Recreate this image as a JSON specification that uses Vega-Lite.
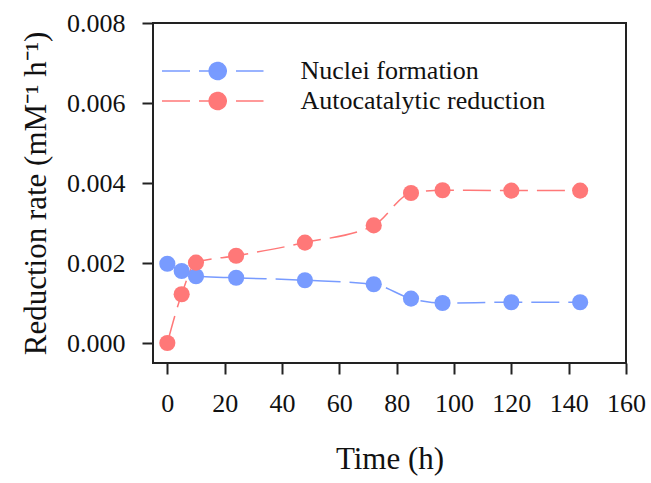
{
  "$schema": "https://vega.github.io/schema/vega-lite/v6.json",
  "width": 473,
  "height": 340,
  "autosize": {"type": "none"},
  "padding": {"left": 153, "top": 23, "right": 25, "bottom": 120},
  "background": "white",
  "config": {
    "font": "Liberation Serif",
    "view": {"stroke": "#222", "strokeWidth": 2},
    "axis": {
      "grid": false,
      "domain": false,
      "tickColor": "#222",
      "tickWidth": 2,
      "tickSize": 11,
      "labelFontSize": 26,
      "labelColor": "#111",
      "labelFont": "Liberation Serif",
      "titleFont": "Liberation Serif",
      "titleFontSize": 31,
      "titleFontWeight": "normal",
      "titleColor": "#111",
      "labelFlush": false,
      "labelOverlap": false
    }
  },
  "data": {
    "values": [
      {"series": "Nuclei formation", "t": 0, "rate": 0.00198},
      {"series": "Nuclei formation", "t": 5, "rate": 0.0018},
      {"series": "Nuclei formation", "t": 10, "rate": 0.00167},
      {"series": "Nuclei formation", "t": 24, "rate": 0.00163},
      {"series": "Nuclei formation", "t": 48, "rate": 0.00157},
      {"series": "Nuclei formation", "t": 72, "rate": 0.00147},
      {"series": "Nuclei formation", "t": 85, "rate": 0.00111},
      {"series": "Nuclei formation", "t": 96, "rate": 0.001},
      {"series": "Nuclei formation", "t": 120, "rate": 0.00102},
      {"series": "Nuclei formation", "t": 144, "rate": 0.00102},
      {"series": "Autocatalytic reduction", "t": 0, "rate": 0.0},
      {"series": "Autocatalytic reduction", "t": 5, "rate": 0.00122},
      {"series": "Autocatalytic reduction", "t": 10, "rate": 0.00201},
      {"series": "Autocatalytic reduction", "t": 24, "rate": 0.00218},
      {"series": "Autocatalytic reduction", "t": 48, "rate": 0.00251},
      {"series": "Autocatalytic reduction", "t": 72, "rate": 0.00294},
      {"series": "Autocatalytic reduction", "t": 85, "rate": 0.00375},
      {"series": "Autocatalytic reduction", "t": 96, "rate": 0.00382},
      {"series": "Autocatalytic reduction", "t": 120, "rate": 0.00381},
      {"series": "Autocatalytic reduction", "t": 144, "rate": 0.00381}
    ]
  },
  "encoding": {
    "x": {
      "field": "t",
      "type": "quantitative",
      "scale": {"domain": [-5, 160], "nice": false, "zero": false},
      "axis": {"values": [0, 20, 40, 60, 80, 100, 120, 140, 160], "title": "Time (h)", "labelPadding": 16, "titlePadding": 28}
    },
    "y": {
      "field": "rate",
      "type": "quantitative",
      "scale": {"domain": [-0.0005, 0.008], "nice": false, "zero": false},
      "axis": {"values": [0, 0.002, 0.004, 0.006, 0.008], "format": ".3f", "title": "Reduction rate (mM⁻¹ h⁻¹)", "labelPadding": 17, "titlePadding": 14}
    },
    "color": {
      "field": "series",
      "type": "nominal",
      "scale": {"domain": ["Nuclei formation", "Autocatalytic reduction"], "range": ["#789bff", "#ff7878"]},
      "legend": {
        "title": null,
        "orient": "none",
        "legendX": 46.5,
        "legendY": 35,
        "symbolType": "M-5.05,0H-2.25M-1.35,0H1.45M2.35,0H5.1M1.37,0A0.85,0.85,0,1,1,-0.33,0A0.85,0.85,0,1,1,1.37,0Z",
        "symbolSize": 400,
        "symbolStrokeWidth": 1.5,
        "symbolOpacity": 1,
        "labelFontSize": 26,
        "labelFont": "Liberation Serif",
        "labelColor": "#111",
        "labelOffset": 75,
        "labelLimit": 0,
        "rowPadding": 4,
        "encode": {
          "symbols": {
            "update": {
              "fill": {"scale": "color", "field": "value"},
              "stroke": {"scale": "color", "field": "value"},
              "strokeWidth": {"value": 1.5},
              "strokeDash": {"value": [1, 0]},
              "opacity": {"value": 1}
            }
          }
        }
      }
    }
  },
  "layer": [
    {
      "mark": {"type": "line", "strokeWidth": 1.5, "strokeDash": [28, 9], "interpolate": "monotone"},
      "encoding": {"detail": {"field": "series"}}
    },
    {
      "mark": {"type": "point", "filled": true, "size": 260, "opacity": 1, "shape": "circle"}
    }
  ]
}
